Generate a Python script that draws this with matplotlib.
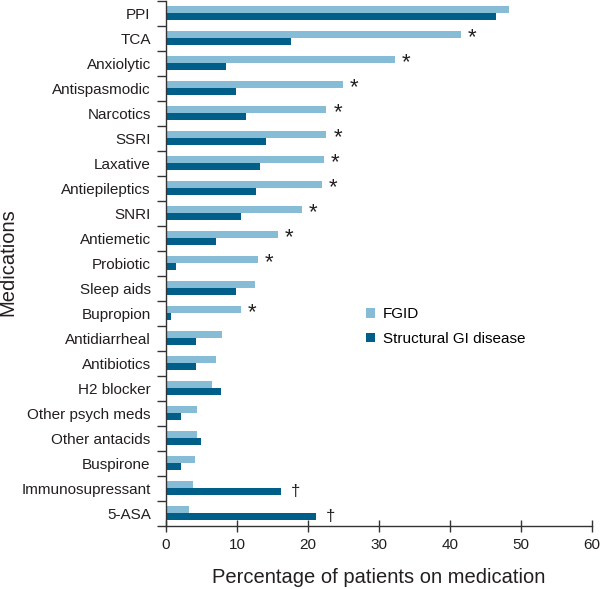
import matplotlib
matplotlib.use("Agg")
import matplotlib.pyplot as plt
import numpy as np

categories = ["PPI", "TCA", "Anxiolytic", "Antispasmodic", "Narcotics", "SSRI",
              "Laxative", "Antiepileptics", "SNRI", "Antiemetic", "Probiotic",
              "Sleep aids", "Bupropion", "Antidiarrheal", "Antibiotics",
              "H2 blocker", "Other psych meds", "Other antacids", "Buspirone",
              "Immunosupressant", "5-ASA"]
fgid = [48.3, 41.6, 32.3, 24.9, 22.6, 22.6, 22.3, 22.0, 19.1, 15.8, 12.9,
        12.6, 10.6, 7.9, 7.0, 6.5, 4.4, 4.4, 4.1, 3.8, 3.2]
structural = [46.5, 17.6, 8.5, 9.9, 11.3, 14.1, 13.3, 12.7, 10.6, 7.0, 1.4,
              9.9, 0.7, 4.2, 4.2, 7.75, 2.1, 4.9, 2.1, 16.2, 21.1]
fgid_sig = ["TCA", "Anxiolytic", "Antispasmodic", "Narcotics", "SSRI", "Laxative",
            "Antiepileptics", "SNRI", "Antiemetic", "Probiotic", "Bupropion"]
struct_sig = ["Immunosupressant", "5-ASA"]
xticks = [0, 10, 20, 30, 40, 50, 60]

plt.rcParams['font.family'] = ['Liberation Sans', 'DejaVu Sans']

light = "#86bcd6"
dark = "#005f88"
txt = "#231f20"

fig = plt.figure(figsize=(6.0, 5.89), dpi=100)
ax = fig.add_axes([166/600, 1 - 526/589, (591.7 - 166)/600, 526/589 - 0.001])

y = np.arange(len(categories))
h = 0.28
ax.barh(y - h/2, fgid, height=h, color=light, label="FGID")
ax.barh(y + h/2, structural, height=h, color=dark, label="Structural GI disease")

for i, c in enumerate(categories):
    if c in fgid_sig:
        ax.annotate("*", (fgid[i], y[i] - h/2), xytext=(5, -2),
                    textcoords="offset points", fontsize=16, ha="left",
                    va="center", color=txt)
    if c in struct_sig:
        ax.annotate("†", (structural[i], y[i] + h/2), xytext=(7, 0),
                    textcoords="offset points", fontsize=12, ha="left",
                    va="center", color=txt)

ax.set_xlim(0, 60)
ax.set_ylim(len(categories) - 0.5, -0.5)
ax.set_xticks(xticks)
ax.set_xticklabels([str(t) for t in xticks], fontsize=11, color=txt)
ax.set_yticks(np.arange(len(categories) + 1) - 0.5)
ax.set_yticklabels([])
ax.set_yticks(y, minor=True)
ax.set_yticklabels(categories, minor=True, fontsize=11, color=txt)
ax.tick_params(axis="y", which="minor", length=0, pad=11)
ax.tick_params(axis="y", which="major", length=6.5, width=1, color="#333333")
ax.tick_params(axis="x", direction="inout", length=9, width=1, color="#333333", pad=4)

for s in ["top", "right"]:
    ax.spines[s].set_visible(False)
for s in ["left", "bottom"]:
    ax.spines[s].set_color("#333333")
    ax.spines[s].set_linewidth(1)

ax.set_xlabel("Percentage of patients on medication", fontsize=14.5, color=txt, labelpad=12)
fig.text(8/600, 1 - 262/589, "Medications", rotation=90, fontsize=14.5,
         ha="center", va="center", color=txt)

ax.legend(loc="upper left", bbox_to_anchor=((366 - 166)/(591.7 - 166), 1 - 307/526),
          frameon=False, fontsize=11, handlelength=0.6, handleheight=0.6,
          handletextpad=0.5, labelspacing=0.7, borderaxespad=0, borderpad=0)

fig.savefig("out.png", dpi=100)
